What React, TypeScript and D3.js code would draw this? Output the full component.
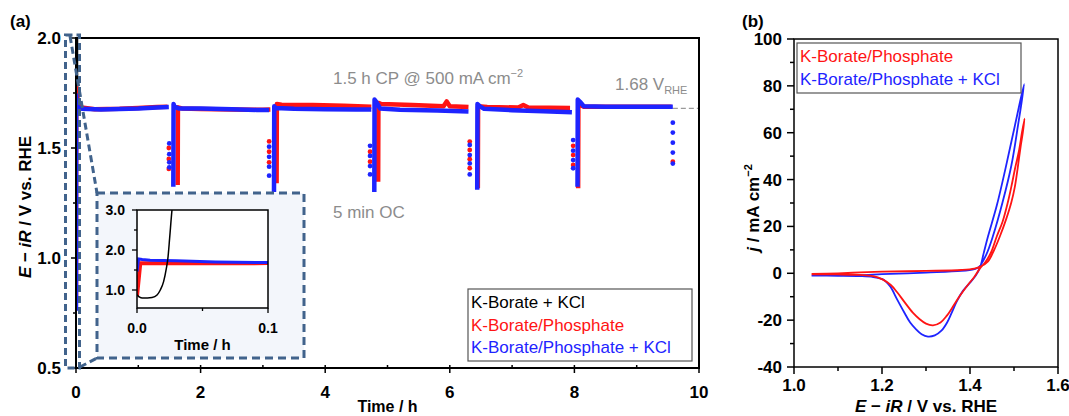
import React from 'react';
import * as d3 from 'd3';

type P = [number, number];

const FONT = "'Liberation Sans', Arial, Helvetica, sans-serif";
const RED = '#ff1414';
const BLUE = '#1e24ff';
const GRAY = '#8c8c8c';
const DASH_BLUE = '#41638c';

// ---------- Panel (a): chronopotentiometry ----------
const timeTicks = [0, 2, 4, 6, 8, 10];
const timeMinor = [1, 3, 5, 7, 9];
const potTicks = [0.5, 1.0, 1.5, 2.0];
const potMinor = [0.75, 1.25, 1.75];

const blackBorateKCl: P[] = [
  [0, 0.88], [0.002, 0.82], [0.004, 0.8], [0.008, 0.8], [0.0115, 0.81], [0.0153, 0.875],
  [0.0178, 1.0], [0.0203, 1.21], [0.0224, 1.54], [0.0237, 1.83], [0.0249, 2.29], [0.0267, 3.0], [0.028, 3.4],
];

const redCP: P[][] = [
  [[0, 0.8], [0.002, 1.78], [0.03, 1.71], [0.06, 1.685], [0.3, 1.676], [0.7, 1.678], [1.0, 1.682], [1.3, 1.686], [1.47, 1.688]],
  [[1.632, 1.332], [1.636, 1.685], [1.7, 1.68], [2.0, 1.677], [2.5, 1.675], [3.0, 1.674], [3.12, 1.675]],
  [[3.22, 1.34], [3.224, 1.7], [3.3, 1.697], [3.8, 1.695], [4.3, 1.692], [4.74, 1.688]],
  [[4.85, 1.347], [4.854, 1.705], [4.9, 1.7], [5.4, 1.695], [5.9, 1.69], [5.95, 1.712], [6.0, 1.69], [6.3, 1.686]],
  [[6.45, 1.317], [6.454, 1.69], [6.6, 1.686], [7.1, 1.684], [7.18, 1.695], [7.26, 1.684], [7.93, 1.682]],
  [[8.06, 1.317], [8.064, 1.7], [8.15, 1.688], [9.0, 1.687], [9.56, 1.687]],
];

const blueCP: P[][] = [
  [[0, 0.76], [0.002, 1.74], [0.006, 1.71], [0.03, 1.685], [0.1, 1.678], [0.4, 1.675], [0.7, 1.677], [1.0, 1.679], [1.3, 1.684], [1.49, 1.686]],
  [[1.562, 1.324], [1.566, 1.7], [1.58, 1.688], [1.65, 1.68], [2.0, 1.679], [2.5, 1.676], [2.9, 1.673], [3.1, 1.673]],
  [[3.178, 1.3], [3.182, 1.69], [3.2, 1.682], [3.5, 1.678], [4.0, 1.676], [4.5, 1.675], [4.74, 1.675]],
  [[4.788, 1.3], [4.792, 1.72], [4.82, 1.71], [4.88, 1.68], [5.2, 1.674], [5.8, 1.671], [6.3, 1.666]],
  [[6.44, 1.31], [6.444, 1.7], [6.48, 1.69], [6.55, 1.678], [7.0, 1.672], [7.5, 1.667], [7.96, 1.662]],
  [[8.05, 1.324], [8.054, 1.72], [8.09, 1.71], [8.15, 1.69], [8.5, 1.687], [9.0, 1.687], [9.58, 1.688]],
];

const redOC: P[] = [
  [1.49, 1.5], [1.49, 1.45], [1.49, 1.405],
  [3.1, 1.53], [3.1, 1.483], [3.1, 1.435],
  [4.72, 1.483], [4.72, 1.438],
  [6.32, 1.529], [6.32, 1.491], [6.32, 1.449], [6.32, 1.408],
  [7.98, 1.51], [7.98, 1.468], [7.98, 1.423],
  [9.58, 1.438],
];

const blueOC: P[] = [
  [1.497, 1.521], [1.497, 1.472], [1.497, 1.435], [1.497, 1.412],
  [3.1, 1.506], [3.1, 1.46], [3.1, 1.415], [3.1, 1.374],
  [4.72, 1.51], [4.72, 1.464], [4.72, 1.418], [4.72, 1.38],
  [6.32, 1.514], [6.32, 1.468], [6.32, 1.43], [6.32, 1.38],
  [7.98, 1.536], [7.98, 1.488], [7.98, 1.445], [7.98, 1.408],
  [9.58, 1.615], [9.58, 1.57], [9.58, 1.524], [9.58, 1.479], [9.58, 1.429],
];

// Inset (first 0.1 h)
const insetTimeTicks = [0, 0.1];
const insetTimeMinor = [0.05];
const insetPotTicks = [1.0, 2.0, 3.0];
const insetPotMinor = [1.5, 2.5];
const redInset: P[] = [[0, 0.85], [0.0025, 1.67], [0.01, 1.668], [0.05, 1.668], [0.1, 1.672]];
const blueInset: P[] = [[0, 1.46], [0.0012, 1.775], [0.004, 1.76], [0.01, 1.745], [0.03, 1.73], [0.06, 1.7], [0.1, 1.685]];

// ---------- Panel (b): CV ----------
const eTicks = [1.0, 1.2, 1.4, 1.6];
const eMinor = [1.1, 1.3, 1.5];
const jTicks = [-40, -20, 0, 20, 40, 60, 80, 100];
const jMinor = [-30, -10, 10, 30, 50, 70, 90];

const redCV: P[] = [
  [1.04, -0.3], [1.1, 0], [1.15, 0.4], [1.2, 0.7], [1.3, 1.0], [1.38, 1.4], [1.41, 2.0], [1.425, 3.0],
  [1.441, 5.1], [1.455, 10], [1.468, 15.8], [1.482, 23], [1.494, 30.3], [1.502, 37], [1.508, 44.4],
  [1.515, 54], [1.52, 60], [1.524, 66],
  [1.518, 60], [1.512, 53], [1.502, 44.4], [1.494, 37], [1.486, 30.3], [1.474, 22], [1.461, 15.8],
  [1.448, 9], [1.435, 4.8], [1.423, 2.2], [1.41, -1.5], [1.395, -5], [1.377, -9.6], [1.362, -14],
  [1.347, -18.2], [1.333, -21], [1.316, -22.2], [1.3, -21.5], [1.285, -19.5], [1.27, -16.8], [1.25, -12],
  [1.234, -8], [1.22, -5], [1.2, -2.5], [1.18, -1.2], [1.15, -0.7], [1.1, -0.5], [1.04, -0.5],
];

const blueCV: P[] = [
  [1.04, -1.0], [1.1, -0.9], [1.15, -0.8], [1.2, -0.4], [1.3, 0.3], [1.38, 1.0], [1.41, 1.8], [1.42, 2.6],
  [1.437, 8], [1.452, 15.8], [1.474, 30.3], [1.494, 46], [1.509, 63], [1.523, 80.7],
  [1.502, 63], [1.481, 45], [1.461, 29], [1.441, 15.8], [1.431, 8.5],
  [1.423, 2.6], [1.413, -1], [1.4, -4], [1.384, -7.5], [1.37, -12], [1.358, -17],
  [1.348, -21], [1.335, -24.5], [1.32, -26.5], [1.3045, -27], [1.29, -26], [1.278, -24], [1.264, -21],
  [1.25, -16.5], [1.234, -11], [1.22, -6], [1.21, -3.8], [1.202, -2.6], [1.18, -1.6], [1.15, -1.2],
  [1.1, -1.05], [1.04, -1.0],
];

const legendA = [
  { label: 'K-Borate + KCl', color: '#000' },
  { label: 'K-Borate/Phosphate', color: RED },
  { label: 'K-Borate/Phosphate + KCl', color: BLUE },
];
const legendB = [
  { label: 'K-Borate/Phosphate', color: RED },
  { label: 'K-Borate/Phosphate + KCl', color: BLUE },
];

// ---------- scales ----------
const xA = d3.scaleLinear().domain([0, 10]).range([76, 699]);
const yA = d3.scaleLinear().domain([0.5, 2.0]).range([368, 38]);
const xI = d3.scaleLinear().domain([0, 0.1]).range([137, 268]);
const yI = d3.scaleLinear().domain([0.55, 3.0]).range([308, 210]);
const xB = d3.scaleLinear().domain([1.0, 1.6]).range([794, 1058]);
const yB = d3.scaleLinear().domain([-40, 100]).range([367, 39]);

const mk = (xs: d3.ScaleLinear<number, number>, ys: d3.ScaleLinear<number, number>, curve: d3.CurveFactory = d3.curveLinear) =>
  d3.line<P>().x((d) => xs(d[0])).y((d) => ys(d[1])).curve(curve);

const f1 = d3.format('.1f');

export default function App() {
  const lineA = mk(xA, yA);
  const lineI = mk(xI, yI);
  const lineIs = mk(xI, yI, d3.curveMonotoneX);
  const lineB = mk(xB, yB, d3.curveCatmullRom.alpha(0.5));

  const [ax0, ax1] = xA.range();
  const [ay1, ay0] = yA.range();
  const [ix0, ix1] = xI.range();
  const [iy1, iy0] = yI.range();
  const [bx0, bx1] = xB.range();
  const [by1, by0] = yB.range();

  return (
    <svg width={1069} height={416} style={{ position: 'absolute', left: 0, top: 0, background: '#fff' }} fontFamily={FONT}>
      <defs>
        <clipPath id="clipA"><rect x={ax0} y={ay0} width={ax1 - ax0} height={ay1 - ay0} /></clipPath>
        <clipPath id="clipI"><rect x={ix0} y={iy0} width={ix1 - ix0} height={iy1 - iy0} /></clipPath>
        <clipPath id="clipB"><rect x={bx0} y={by0} width={bx1 - bx0} height={by1 - by0} /></clipPath>
      </defs>

      {/* ================= Panel (a) ================= */}
      <text x={10} y={27} fontSize={17} fontWeight="bold">(a)</text>

      {timeTicks.map((v) => (
        <g key={'tx' + v}>
          <line x1={xA(v)} x2={xA(v)} y1={ay1 - 3} y2={ay1 + 5} stroke="#000" strokeWidth={1.5} />
          <text x={xA(v)} y={398} fontSize={17} fontWeight="bold" textAnchor="middle">{v}</text>
        </g>
      ))}
      {timeMinor.map((v) => (
        <line key={'txm' + v} x1={xA(v)} x2={xA(v)} y1={ay1 - 3} y2={ay1} stroke="#000" strokeWidth={1.5} />
      ))}
      {potTicks.map((v) => (
        <g key={'ty' + v}>
          <line x1={ax0 - 5} x2={ax0} y1={yA(v)} y2={yA(v)} stroke="#000" strokeWidth={1.5} />
          <text x={61} y={yA(v) + 6} fontSize={17} fontWeight="bold" textAnchor="end">{f1(v)}</text>
        </g>
      ))}
      {potMinor.map((v) => (
        <line key={'tym' + v} x1={ax0 - 3} x2={ax0} y1={yA(v)} y2={yA(v)} stroke="#000" strokeWidth={1.5} />
      ))}

      <text x={333} y={84} fontSize={17} fill={GRAY}>
        1.5 h CP @ 500 mA cm<tspan fontSize={11} dy={-7}>−2</tspan>
      </text>
      <text x={615} y={90} fontSize={17} fill={GRAY}>
        1.68 V<tspan fontSize={11} dy={4}>RHE</tspan>
      </text>
      <line x1={xA(9.58)} x2={ax1} y1={yA(1.68)} y2={yA(1.68)} stroke="#9a9a9a" strokeWidth={1.2} strokeDasharray="5 3" />
      <text x={333} y={218} fontSize={17} fill={GRAY}>5 min OC</text>

      <g clipPath="url(#clipA)">
        <path d={lineA(blackBorateKCl) ?? ''} fill="none" stroke="#000" strokeWidth={1.5} />
        {redCP.map((seg, i) => (
          <path key={'r' + i} d={lineA(seg) ?? ''} fill="none" stroke={RED} strokeWidth={4.5} strokeLinejoin="round" />
        ))}
        {redOC.map((d, i) => (
          <circle key={'ro' + i} cx={xA(d[0])} cy={yA(d[1])} r={2.4} fill={RED} />
        ))}
        {blueCP.map((seg, i) => (
          <path key={'b' + i} d={lineA(seg) ?? ''} fill="none" stroke={BLUE} strokeWidth={4.5} strokeLinejoin="round" />
        ))}
        {blueOC.map((d, i) => (
          <circle key={'bo' + i} cx={xA(d[0])} cy={yA(d[1])} r={2.4} fill={BLUE} />
        ))}
      </g>

      <rect x={ax0} y={ay0} width={ax1 - ax0} height={ay1 - ay0} fill="none" stroke="#000" strokeWidth={2} />

      <text x={(ax0 + ax1) / 2} y={412} fontSize={16} fontWeight="bold" textAnchor="middle">Time / h</text>
      <text transform={`translate(31, ${(ay0 + ay1) / 2 + 4}) rotate(-90)`} fontSize={17} fontWeight="bold" textAnchor="middle">
        <tspan fontStyle="italic">E</tspan> − <tspan fontStyle="italic">iR</tspan> / V vs. RHE
      </text>

      <rect x={468} y={289} width={224} height={72} fill="#fff" stroke="#555" strokeWidth={1.2} />
      {legendA.map((d, i) => (
        <text key={d.label} x={471} y={308 + i * 22.5} fontSize={17} fill={d.color}>{d.label}</text>
      ))}

      <rect x={65.5} y={35} width={14} height={333} fill="none" stroke={DASH_BLUE} strokeWidth={3} strokeDasharray="7 4" />
      <line x1={70} x2={97} y1={36} y2={193} stroke={DASH_BLUE} strokeWidth={3} strokeDasharray="7 4" />
      <line x1={80} x2={97} y1={367} y2={358} stroke={DASH_BLUE} strokeWidth={3} strokeDasharray="7 4" />

      <rect x={97} y={193} width={207} height={165} fill="#f3f6fb" stroke={DASH_BLUE} strokeWidth={3} strokeDasharray="8 5" />
      <rect x={ix0} y={iy0} width={ix1 - ix0} height={iy1 - iy0} fill="#fff" />
      <g clipPath="url(#clipI)">
        <path d={lineI(redInset) ?? ''} fill="none" stroke={RED} strokeWidth={4} />
        <path d={lineI(blueInset) ?? ''} fill="none" stroke={BLUE} strokeWidth={3} />
        <path d={lineIs(blackBorateKCl) ?? ''} fill="none" stroke="#000" strokeWidth={1.5} />
      </g>
      <rect x={ix0} y={iy0} width={ix1 - ix0} height={iy1 - iy0} fill="none" stroke="#000" strokeWidth={1.5} />
      {insetPotTicks.map((v) => (
        <g key={'iy' + v}>
          <line x1={ix0 - 5} x2={ix0} y1={yI(v)} y2={yI(v)} stroke="#000" strokeWidth={1.3} />
          <text x={125} y={yI(v) + 5} fontSize={14} fontWeight="bold" textAnchor="end">{f1(v)}</text>
        </g>
      ))}
      {insetPotMinor.map((v) => (
        <line key={'iym' + v} x1={ix0 - 3} x2={ix0} y1={yI(v)} y2={yI(v)} stroke="#000" strokeWidth={1.3} />
      ))}
      {insetTimeTicks.map((v) => (
        <g key={'ix' + v}>
          <line x1={xI(v)} x2={xI(v)} y1={iy1} y2={iy1 + 5} stroke="#000" strokeWidth={1.3} />
          <text x={xI(v)} y={333} fontSize={14} fontWeight="bold" textAnchor="middle">{f1(v)}</text>
        </g>
      ))}
      {insetTimeMinor.map((v) => (
        <line key={'ixm' + v} x1={xI(v)} x2={xI(v)} y1={iy1} y2={iy1 + 3} stroke="#000" strokeWidth={1.3} />
      ))}
      <text x={(ix0 + ix1) / 2} y={350} fontSize={15} fontWeight="bold" textAnchor="middle">Time / h</text>

      {/* ================= Panel (b) ================= */}
      <text x={742} y={27} fontSize={17} fontWeight="bold">(b)</text>
      {jTicks.map((v) => (
        <g key={'jy' + v}>
          <line x1={bx0 - 7} x2={bx0} y1={yB(v)} y2={yB(v)} stroke="#000" strokeWidth={1.5} />
          <text x={782} y={yB(v) + 6} fontSize={17} fontWeight="bold" textAnchor="end">{v}</text>
        </g>
      ))}
      {jMinor.map((v) => (
        <line key={'jym' + v} x1={bx0 - 4} x2={bx0} y1={yB(v)} y2={yB(v)} stroke="#000" strokeWidth={1.5} />
      ))}
      {eTicks.map((v) => (
        <g key={'ex' + v}>
          <line x1={xB(v)} x2={xB(v)} y1={by1} y2={by1 + 7} stroke="#000" strokeWidth={1.5} />
          <text x={xB(v)} y={391} fontSize={17} fontWeight="bold" textAnchor="middle">{f1(v)}</text>
        </g>
      ))}
      {eMinor.map((v) => (
        <line key={'exm' + v} x1={xB(v)} x2={xB(v)} y1={by1} y2={by1 + 4} stroke="#000" strokeWidth={1.5} />
      ))}

      <g clipPath="url(#clipB)">
        <path d={lineB(blueCV) ?? ''} fill="none" stroke={BLUE} strokeWidth={1.8} />
        <path d={lineB(redCV) ?? ''} fill="none" stroke={RED} strokeWidth={1.8} />
      </g>
      <rect x={bx0} y={by0} width={bx1 - bx0} height={by1 - by0} fill="none" stroke="#000" strokeWidth={1.5} />

      <rect x={797} y={43} width={224} height={50} fill="#fff" stroke="#555" strokeWidth={1.2} />
      {legendB.map((d, i) => (
        <text key={d.label} x={800} y={62 + i * 23} fontSize={17} fill={d.color}>{d.label}</text>
      ))}

      <text x={(bx0 + bx1) / 2} y={412} fontSize={17} fontWeight="bold" textAnchor="middle">
        <tspan fontStyle="italic">E</tspan> − <tspan fontStyle="italic">iR</tspan> / V vs. RHE
      </text>
      <text transform={`translate(759, ${(by0 + by1) / 2 + 5}) rotate(-90)`} fontSize={17} fontWeight="bold" textAnchor="middle">
        <tspan fontStyle="italic">j</tspan> / mA cm<tspan fontSize={11} dy={-7}>−2</tspan>
      </text>
    </svg>
  );
}
